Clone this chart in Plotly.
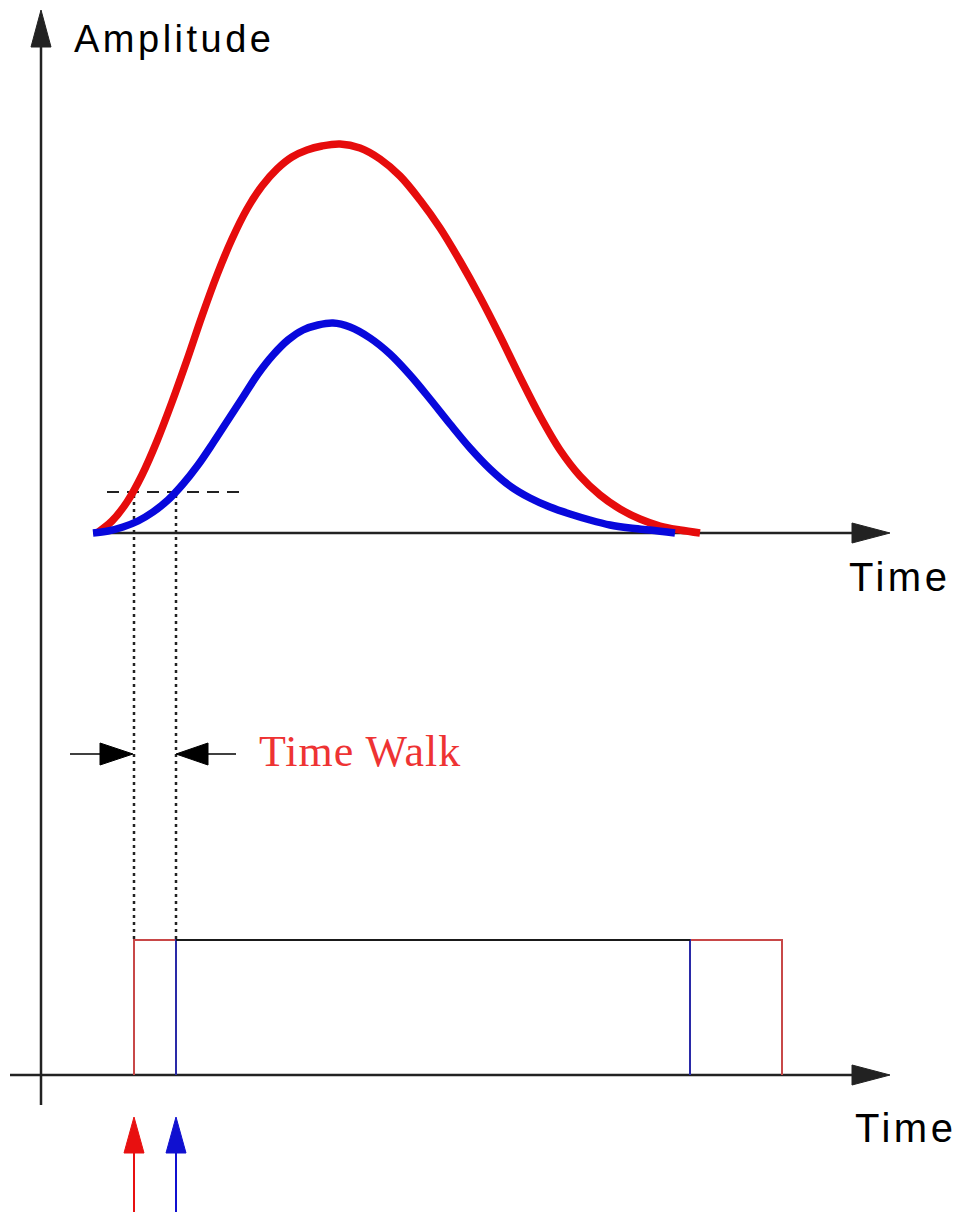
import plotly.graph_objects as go

# ---------------- data (time units horizontal, amplitude units upward) ----------------
red_t = [97, 112, 127, 142, 157, 172, 187, 202, 217, 232, 247, 262, 277, 292, 307, 322,
         340, 360, 380, 400, 420, 440, 460, 480, 500, 520, 540, 560, 580, 600, 620, 640,
         660, 680, 700]
red_amp = [0, 12, 31, 58, 92, 131, 173, 217, 258, 294, 324, 347, 364, 376, 383, 387,
           389, 385, 374, 357, 333, 305, 272, 236, 197, 156, 117, 83, 57, 38, 24, 14,
           7, 3, 0]

blue_t = [93, 108, 123, 138, 153, 168, 183, 198, 213, 228, 243, 258, 273, 288, 303, 318,
          333, 350, 370, 390, 410, 430, 450, 470, 490, 510, 530, 550, 570, 590, 610, 630,
          650, 675]
blue_amp = [0, 2, 6, 12, 21, 33, 49, 68, 90, 113, 136, 159, 178, 193, 203, 208,
            210, 206, 195, 179, 158, 134, 109, 85, 64, 47, 35, 26, 19, 13, 8, 5,
            3, 0]

threshold = 41
threshold_span = [107, 240]
red_cross_t = 134
blue_cross_t = 176
red_pulse = [134, 782]     # start, end of red discriminator output
blue_pulse = [176, 690]    # start, end of blue discriminator output
pulse_height = 135

labels = {"amp": "Amplitude", "time": "Time", "walk": "Time Walk"}

# ---------------- layout constants ----------------
W, H = 956, 1212
TOP_BASE = 0          # baseline of the analog panel
BOT_BASE = -542       # baseline of the digital panel
Y_MIN, Y_MAX = -679, 533
AXIS_X = 41
AX_COL = "#222222"

RED = "#e60c0c"
BLUE = "#0808dc"
PULSE_RED = "#c84848"
PULSE_BLUE = "#2a2aa8"

fig = go.Figure()


def line(xs, ys, color, width, dash=None):
    fig.add_trace(go.Scatter(x=xs, y=ys, mode="lines",
                             line=dict(color=color, width=width, dash=dash),
                             hoverinfo="skip", showlegend=False))


def head(tip_x, tip_y, direction, length, half, color):
    if direction == "up":
        xs = [tip_x, tip_x - half, tip_x + half, tip_x]
        ys = [tip_y, tip_y - length, tip_y - length, tip_y]
    elif direction == "right":
        xs = [tip_x, tip_x - length, tip_x - length, tip_x]
        ys = [tip_y, tip_y + half, tip_y - half, tip_y]
    else:  # left
        xs = [tip_x, tip_x + length, tip_x + length, tip_x]
        ys = [tip_y, tip_y + half, tip_y - half, tip_y]
    fig.add_trace(go.Scatter(x=xs, y=ys, mode="lines", fill="toself",
                             fillcolor=color, line=dict(color=color, width=1),
                             hoverinfo="skip", showlegend=False))


# vertical amplitude axis
line([AXIS_X, AXIS_X], [-572, 490], AX_COL, 2.5)
head(AXIS_X, 523, "up", 37, 10, AX_COL)

# top time axis
line([93, 852], [TOP_BASE, TOP_BASE], AX_COL, 2.5)
head(890, TOP_BASE, "right", 38, 10, AX_COL)

# bottom time axis
line([10, 852], [BOT_BASE, BOT_BASE], AX_COL, 2.5)
head(890, BOT_BASE, "right", 38, 10, AX_COL)

# threshold (dashed)
line(threshold_span, [threshold, threshold], AX_COL, 2, dash="12px,8px")

# dotted projection lines
pulse_top = BOT_BASE + pulse_height
for t in (red_cross_t, blue_cross_t):
    line([t, t], [threshold - 3, pulse_top], AX_COL, 2.5, dash="3px,4px")

# pulses
line([red_pulse[0], red_pulse[0], red_pulse[1], red_pulse[1]],
     [BOT_BASE, pulse_top, pulse_top, BOT_BASE], PULSE_RED, 2)
line([blue_pulse[0], blue_pulse[0], blue_pulse[1], blue_pulse[1]],
     [BOT_BASE, pulse_top, pulse_top, BOT_BASE], PULSE_BLUE, 2)
ov = [max(red_pulse[0], blue_pulse[0]), min(red_pulse[1], blue_pulse[1])]
line(ov, [pulse_top, pulse_top], "#1a1a1a", 2)

# analog pulses
fig.add_trace(go.Scatter(x=red_t, y=red_amp, mode="lines",
                         line=dict(color=RED, width=7.5, shape="spline", smoothing=1.0),
                         hoverinfo="skip", showlegend=False))
fig.add_trace(go.Scatter(x=blue_t, y=blue_amp, mode="lines",
                         line=dict(color=BLUE, width=7.5, shape="spline", smoothing=1.0),
                         hoverinfo="skip", showlegend=False))

# time walk arrows
walk_y = -221
line([70, red_cross_t - 33], [walk_y, walk_y], "#000000", 1.5)
head(red_cross_t - 1, walk_y, "right", 33, 11, "#000000")
line([blue_cross_t + 32, 236], [walk_y, walk_y], "#000000", 1.5)
head(blue_cross_t, walk_y, "left", 32, 11, "#000000")

# bottom timing arrows
for t, c in ((red_cross_t, "#e81010"), (blue_cross_t, "#1010d0")):
    line([t, t], [Y_MIN, -620], c, 2)
    head(t, -584, "up", 36, 10, c)

# text labels
sans = "Liberation Sans, Arial, sans-serif"
fig.add_annotation(x=72, y=494, xref="x", yref="y", xanchor="left", yanchor="middle",
                   align="left", showarrow=False,
                   text='<span style="letter-spacing:3.5px">%s</span>' % labels["amp"],
                   font=dict(family=sans, size=38, color="#000000"))
fig.add_annotation(x=847, y=-44, xref="x", yref="y", xanchor="left", yanchor="middle",
                   align="left", showarrow=False,
                   text='<span style="letter-spacing:3.5px">%s</span>' % labels["time"],
                   font=dict(family=sans, size=40, color="#000000"))
fig.add_annotation(x=853, y=-595, xref="x", yref="y", xanchor="left", yanchor="middle",
                   align="left", showarrow=False,
                   text='<span style="letter-spacing:3.5px">%s</span>' % labels["time"],
                   font=dict(family=sans, size=40, color="#000000"))
fig.add_annotation(x=257, y=-218, xref="x", yref="y", xanchor="left", yanchor="middle",
                   align="left", showarrow=False,
                   text='<span style="letter-spacing:1px">%s</span>' % labels["walk"],
                   font=dict(family="Liberation Serif, Times New Roman, serif", size=44,
                             color="#ee3333"))

fig.update_layout(
    width=W, height=H,
    margin=dict(l=0, r=0, t=0, b=0),
    paper_bgcolor="white", plot_bgcolor="white",
    xaxis=dict(range=[0, W], visible=False, fixedrange=True),
    yaxis=dict(range=[Y_MIN, Y_MAX], visible=False, fixedrange=True),
    showlegend=False,
)

fig.write_html("out.html", config={"displayModeBar": False},
               post_script="document.body.style.margin='0px';"
                           "document.body.style.overflow='hidden';")
